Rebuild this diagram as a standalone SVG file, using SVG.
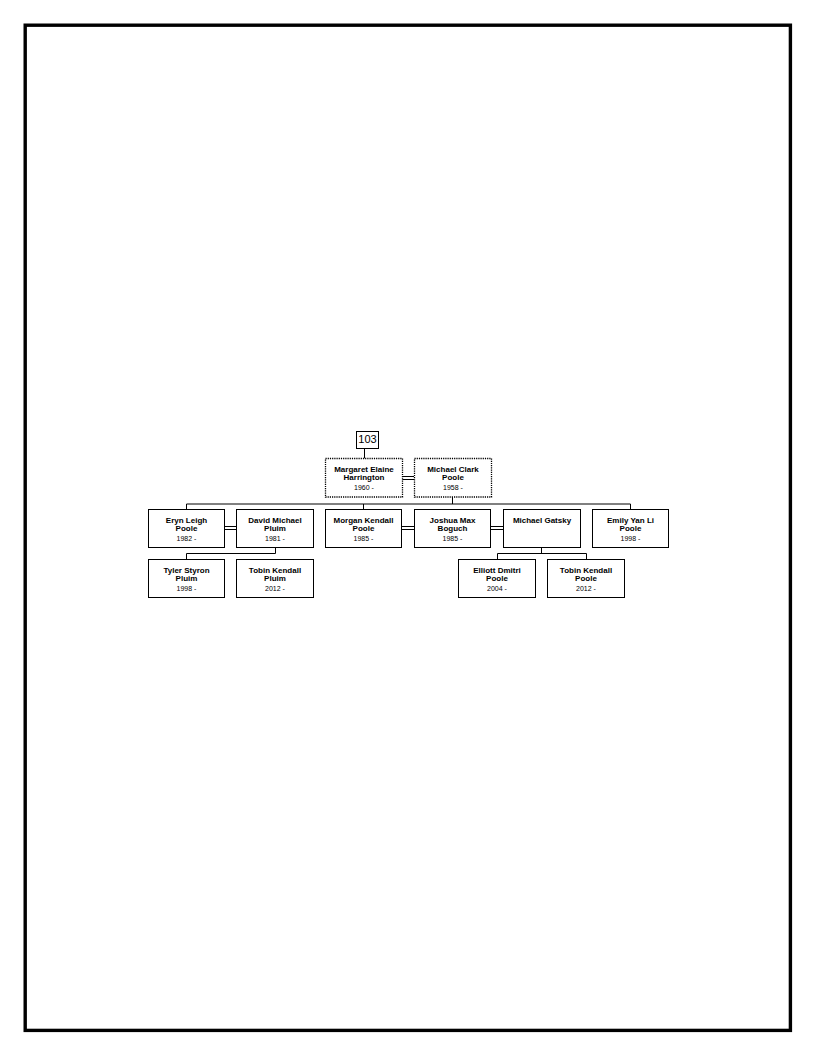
<svg xmlns="http://www.w3.org/2000/svg" width="816" height="1056" viewBox="0 0 816 1056">
<style>
.box{fill:#fff;stroke:#000;stroke-width:1}
.dot{fill:#fff;stroke:#000;stroke-width:1.3;stroke-dasharray:1.2,1}
.nm{font-family:"Liberation Sans",Arial,sans-serif;font-size:8px;font-weight:bold;text-anchor:middle;fill:#000}
.dt{font-family:"Liberation Sans",Arial,sans-serif;font-size:7px;text-anchor:middle;fill:#000}
.conn line{stroke:#000;stroke-width:1}
</style>
<rect x="0" y="0" width="816" height="1056" fill="#fff"/>
<rect x="25.2" y="25.2" width="765.2" height="1005.2" fill="none" stroke="#000" stroke-width="3.4"/>
<g class="conn" id="connectors">
<line x1="364.5" y1="448" x2="364.5" y2="458.5"/>
<line x1="402" y1="476.5" x2="414" y2="476.5"/>
<line x1="402" y1="479.5" x2="414" y2="479.5"/>
<line x1="452.5" y1="497" x2="452.5" y2="504"/>
<line x1="186.5" y1="504" x2="630.5" y2="504"/>
<line x1="186.5" y1="504" x2="186.5" y2="509.5"/>
<line x1="363.5" y1="504" x2="363.5" y2="509.5"/>
<line x1="630.5" y1="504" x2="630.5" y2="509.5"/>
<line x1="224.5" y1="526.5" x2="236.5" y2="526.5"/>
<line x1="224.5" y1="529.5" x2="236.5" y2="529.5"/>
<line x1="401.5" y1="526.5" x2="414.5" y2="526.5"/>
<line x1="401.5" y1="529.5" x2="414.5" y2="529.5"/>
<line x1="490.5" y1="526.5" x2="503.5" y2="526.5"/>
<line x1="490.5" y1="529.5" x2="503.5" y2="529.5"/>
<line x1="275.5" y1="547.5" x2="275.5" y2="553.5"/>
<line x1="186.5" y1="553.5" x2="275.5" y2="553.5"/>
<line x1="186.5" y1="553.5" x2="186.5" y2="559.5"/>
<line x1="541.5" y1="547.5" x2="541.5" y2="553.5"/>
<line x1="497.5" y1="553.5" x2="586.5" y2="553.5"/>
<line x1="497.5" y1="553.5" x2="497.5" y2="559.5"/>
<line x1="586.5" y1="553.5" x2="586.5" y2="559.5"/>
</g>
<g id="n103">
<rect class="box" x="356.5" y="431.5" width="22" height="17"/>
<text x="367.5" y="442.5" font-family="Liberation Sans,Arial,sans-serif" font-size="11" text-anchor="middle">103</text>
</g>
<g id="margaret">
<rect class="dot" x="325.5" y="458.5" width="77" height="38.5"/>
<text class="nm" x="364" y="472">Margaret Elaine</text>
<text class="nm" x="364" y="480">Harrington</text>
<text class="dt" x="364" y="490">1960 -</text>
</g>
<g id="michaelclark">
<rect class="dot" x="414.5" y="458.5" width="77" height="38.5"/>
<text class="nm" x="453" y="472">Michael Clark</text>
<text class="nm" x="453" y="480">Poole</text>
<text class="dt" x="453" y="490">1958 -</text>
</g>
<g id="eryn">
<rect class="box" x="148.5" y="509.5" width="76" height="38"/>
<text class="nm" x="186.5" y="523">Eryn Leigh</text>
<text class="nm" x="186.5" y="531">Poole</text>
<text class="dt" x="186.5" y="541">1982 -</text>
</g>
<g id="david">
<rect class="box" x="236.5" y="509.5" width="77" height="38"/>
<text class="nm" x="275" y="523">David Michael</text>
<text class="nm" x="275" y="531">Pluim</text>
<text class="dt" x="275" y="541">1981 -</text>
</g>
<g id="morgan">
<rect class="box" x="325.5" y="509.5" width="76" height="38"/>
<text class="nm" x="363.5" y="523">Morgan Kendall</text>
<text class="nm" x="363.5" y="531">Poole</text>
<text class="dt" x="363.5" y="541">1985 -</text>
</g>
<g id="joshua">
<rect class="box" x="414.5" y="509.5" width="76" height="38"/>
<text class="nm" x="452.5" y="523">Joshua Max</text>
<text class="nm" x="452.5" y="531">Boguch</text>
<text class="dt" x="452.5" y="541">1985 -</text>
</g>
<g id="gatsky">
<rect class="box" x="503.5" y="509.5" width="77" height="38"/>
<text class="nm" x="542" y="523">Michael Gatsky</text>
</g>
<g id="emily">
<rect class="box" x="592.5" y="509.5" width="76" height="38"/>
<text class="nm" x="630.5" y="523">Emily Yan Li</text>
<text class="nm" x="630.5" y="531">Poole</text>
<text class="dt" x="630.5" y="541">1998 -</text>
</g>
<g id="tyler">
<rect class="box" x="148.5" y="559.5" width="76" height="38"/>
<text class="nm" x="186.5" y="573">Tyler Styron</text>
<text class="nm" x="186.5" y="581">Pluim</text>
<text class="dt" x="186.5" y="591">1998 -</text>
</g>
<g id="tobinpluim">
<rect class="box" x="236.5" y="559.5" width="77" height="38"/>
<text class="nm" x="275" y="573">Tobin Kendall</text>
<text class="nm" x="275" y="581">Pluim</text>
<text class="dt" x="275" y="591">2012 -</text>
</g>
<g id="elliott">
<rect class="box" x="458.5" y="559.5" width="77" height="38"/>
<text class="nm" x="497" y="573">Elliott Dmitri</text>
<text class="nm" x="497" y="581">Poole</text>
<text class="dt" x="497" y="591">2004 -</text>
</g>
<g id="tobinpoole">
<rect class="box" x="547.5" y="559.5" width="77" height="38"/>
<text class="nm" x="586" y="573">Tobin Kendall</text>
<text class="nm" x="586" y="581">Poole</text>
<text class="dt" x="586" y="591">2012 -</text>
</g>
</svg>
